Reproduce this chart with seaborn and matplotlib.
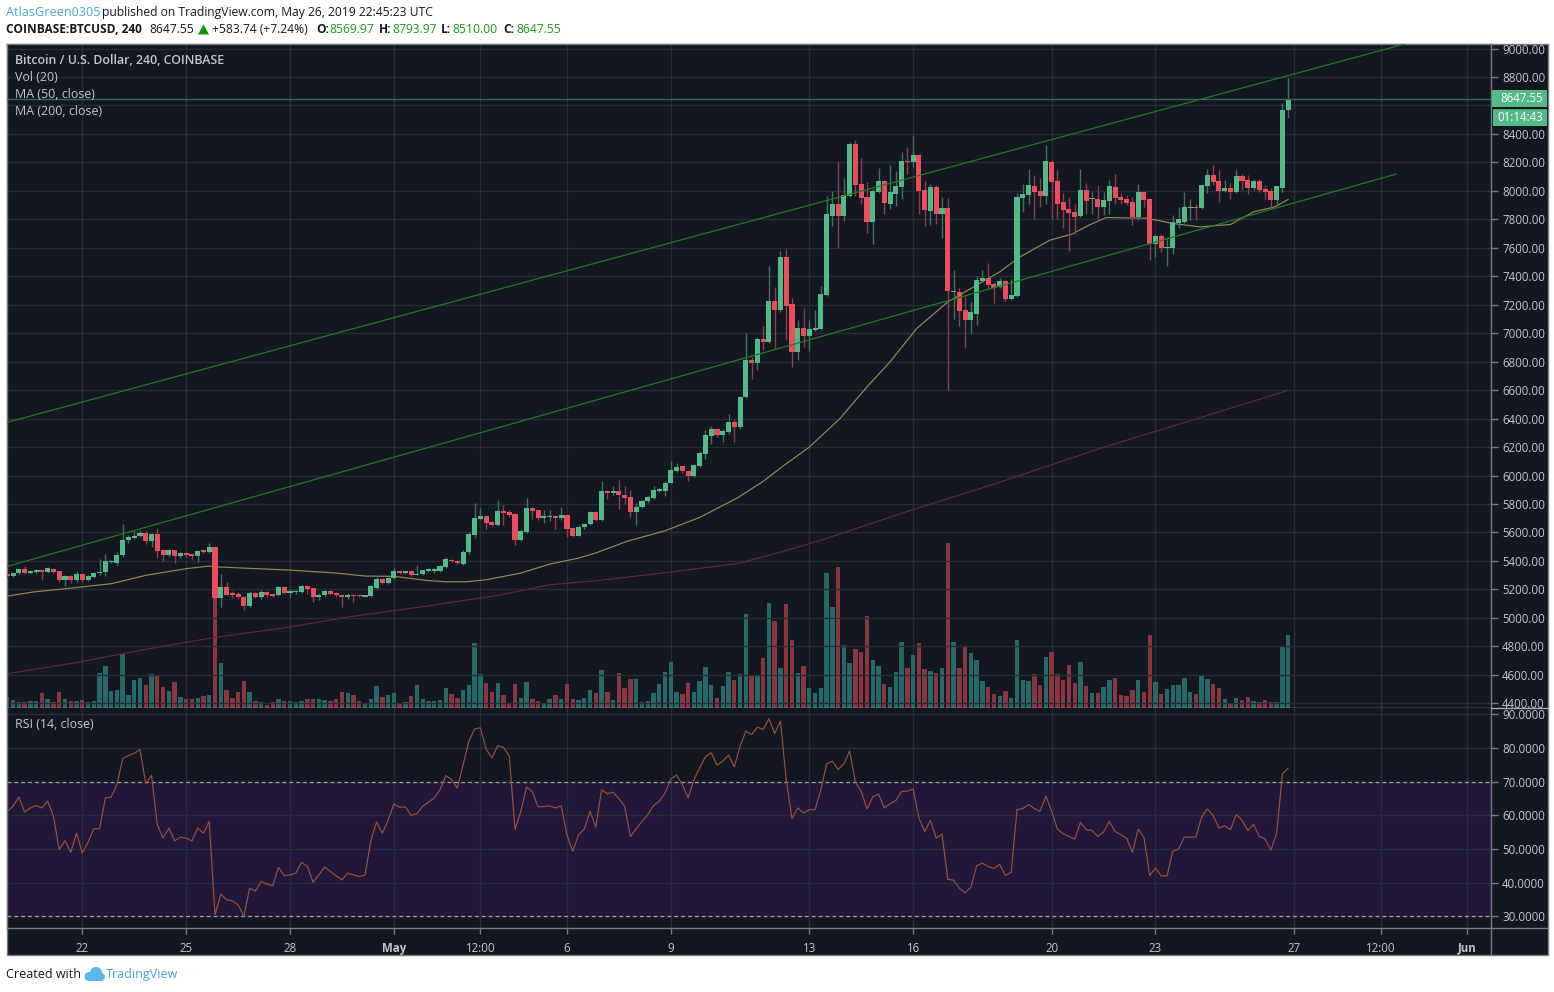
import matplotlib
matplotlib.use("Agg")
import matplotlib.pyplot as plt
from matplotlib.patches import Rectangle, Circle, Polygon
from matplotlib.transforms import Affine2D
import numpy as np
import pandas as pd
import seaborn as sns

# ---- data -----------------------------------------------------------------
opens = [5306,5292,5313,5341,5315,5320,5334,5322,5346,5327,
 5264,5292,5264,5306,5264,5285,5315,5320,5390,5388,
 5439,5545,5559,5573,5599,5538,5587,5475,5439,5475,
 5432,5453,5446,5432,5475,5460,5496,5137,5214,5172,
 5170,5149,5081,5172,5144,5184,5165,5161,5217,5177,
 5182,5179,5222,5207,5144,5158,5186,5175,5163,5144,
 5163,5158,5149,5151,5212,5271,5243,5278,5327,5315,
 5327,5301,5306,5329,5330,5333,5361,5408,5401,5380,
 5460,5580,5692,5713,5671,5650,5748,5741,5727,5545,
 5600,5769,5755,5699,5706,5713,5699,5720,5629,5577,
 5636,5657,5741,5685,5889,5878,5889,5866,5847,5741,
 5776,5819,5840,5889,5894,5950,6032,6065,6034,5995,
 6065,6152,6276,6325,6282,6304,6374,6339,6553,6810,
 6792,6956,6937,7225,7162,7534,7204,6869,7035,6979,
 7021,7028,7267,7822,7907,7822,7965,8329,8047,7956,
 7780,7991,8069,7907,7977,8026,8205,8205,8251,8005,
 7858,8026,7837,7883,7293,7293,7160,7091,7134,7368,
 7387,7345,7323,7366,7239,7260,7949,7970,8033,7998,
 7963,8202,8068,7921,7872,7850,7822,8005,7942,7942,
 7886,7928,8026,7956,7942,7921,7815,7991,7942,7626,
 7682,7597,7600,7771,7780,7878,7888,7878,8033,8110,
 8068,7998,8019,7991,8103,8075,8019,8068,8012,7998,7935,8019,8569.97]
highs = [5310,5318,5346,5365,5335,5342,5340,5355,5350,5332,
 5298,5298,5328,5315,5298,5325,5416,5451,5410,5460,
 5657,5580,5610,5615,5610,5595,5634,5480,5482,5480,
 5462,5465,5452,5478,5480,5526,5505,5306,5250,5190,
 5185,5155,5190,5185,5195,5190,5170,5222,5225,5200,
 5195,5228,5228,5212,5172,5195,5198,5180,5170,5178,
 5168,5162,5162,5228,5290,5278,5290,5352,5335,5332,
 5335,5370,5340,5350,5350,5372,5425,5415,5405,5480,
 5600,5805,5770,5722,5678,5825,5790,5755,5735,5625,
 5845,5778,5760,5755,5755,5725,5780,5728,5640,5650,
 5670,5750,5748,5965,5900,5925,5970,5925,5900,5810,
 5830,5855,5925,5915,5960,6100,6090,6070,6040,6080,
 6170,6320,6345,6335,6330,6430,6400,6560,7000,6830,
 6970,7050,7470,7325,7580,7595,7250,7090,7180,7090,
 7160,7330,7965,8000,8205,8090,8340,8360,8230,8065,
 8010,8160,8075,8180,8140,8270,8310,8395,8260,8070,
 8045,8040,7960,7950,7447,7320,7265,7220,7400,7447,
 7495,7360,7390,7375,7380,7985,8045,8157,8110,8094,
 8321,8215,8150,7982,7958,7911,8157,8057,7993,8040,
 7993,8080,8118,7982,7970,7958,8047,8000,7950,7700,
 7700,7677,7829,7888,7993,7946,7911,8050,8157,8181,
 8146,8075,8052,8150,8122,8110,8087,8087,8040,8017,8033,8614,8793.97]
lows = [5285,5285,5308,5308,5305,5310,5268,5318,5318,5255,
 5222,5245,5255,5252,5258,5280,5300,5292,5385,5375,
 5430,5525,5555,5565,5520,5500,5423,5400,5430,5385,
 5420,5425,5415,5393,5455,5455,5130,5076,5158,5140,
 5135,5053,5075,5140,5135,5150,5150,5155,5165,5150,
 5170,5172,5170,5110,5125,5150,5160,5150,5080,5130,
 5110,5148,5145,5145,5205,5238,5238,5270,5310,5308,
 5295,5298,5300,5325,5315,5325,5350,5392,5380,5375,
 5452,5560,5688,5625,5645,5645,5650,5712,5515,5540,
 5595,5695,5690,5670,5680,5625,5690,5570,5570,5572,
 5625,5650,5680,5680,5835,5860,5765,5800,5710,5655,
 5770,5810,5835,5885,5855,5945,6025,6020,5965,5990,
 6060,6115,6225,6270,6235,6295,6235,6330,6545,6675,
 6740,6880,6930,6890,7150,6950,6765,6810,6900,6875,
 7015,7020,7260,7755,7600,7790,7960,7965,7905,7705,
 7625,7985,7840,7875,7893,7945,8120,8170,7840,7755,
 7760,7770,7670,6604,7100,7050,6895,7000,7060,7360,
 7310,7210,7320,7225,7230,7255,7853,7911,7806,7888,
 7911,7806,7806,7736,7576,7700,7815,7841,7841,7806,
 7829,7841,7911,7911,7900,7759,7794,7888,7513,7536,
 7572,7471,7560,7736,7771,7799,7799,7875,7982,8040,
 7923,7993,7946,7986,8005,7977,8005,7993,7946,7883,7911,7993,8510]
closes = [5292,5313,5341,5313,5329,5334,5322,5348,5322,5264,
 5292,5264,5306,5264,5292,5318,5322,5397,5400,5439,
 5550,5566,5573,5599,5538,5587,5470,5439,5475,5432,
 5456,5439,5432,5472,5460,5496,5140,5214,5163,5163,
 5144,5081,5172,5144,5184,5158,5156,5214,5172,5189,
 5189,5222,5203,5144,5163,5186,5165,5158,5144,5163,
 5151,5151,5158,5222,5271,5243,5282,5327,5315,5327,
 5299,5310,5334,5341,5345,5366,5411,5397,5385,5465,
 5587,5702,5713,5664,5650,5748,5734,5720,5545,5608,
 5769,5748,5699,5713,5713,5699,5720,5622,5577,5640,
 5662,5741,5685,5889,5878,5889,5861,5842,5741,5781,
 5819,5847,5896,5905,5950,6036,6058,6030,5995,6072,
 6158,6282,6325,6282,6311,6374,6339,6553,6810,6792,
 6956,6937,7225,7162,7534,7190,6869,7035,6979,7028,
 7035,7274,7837,7907,7822,7970,8329,8040,7949,7780,
 7998,8069,7914,7991,8033,8207,8200,8251,8001,7865,
 8026,7837,7883,7295,7297,7155,7091,7148,7373,7387,
 7338,7321,7366,7239,7267,7954,7977,8040,7993,7963,
 8209,8061,7911,7865,7843,7815,8005,7928,7952,7886,
 7935,8033,7949,7935,7914,7815,7991,7935,7626,7682,
 7597,7604,7778,7801,7886,7888,7883,8040,8110,8061,
 7998,8019,7991,8103,8068,8019,8068,8005,7991,7935,8033,8567,8647.55]
volumes = [11,8,6,6,7,7,15,9,6,16,9,7,7,8,6,7,35,42,17,18,
 54,13,28,30,23,34,32,21,17,26,11,9,9,10,12,13,113,45,18,10,
 16,27,16,7,6,3,6,9,7,7,6,7,9,9,9,8,7,9,16,15,
 13,7,4,9,22,11,13,15,4,6,12,23,9,7,7,8,20,14,10,18,
 23,65,34,25,16,25,13,5,24,10,26,9,7,5,9,13,9,24,9,8,
 10,18,15,38,16,8,35,20,29,29,6,7,15,24,36,46,16,14,25,16,
 27,41,23,10,22,36,28,34,94,32,32,50,105,87,40,104,68,35,42,20,
 15,20,135,101,141,63,45,59,56,92,48,42,24,21,36,66,40,53,65,39,
 37,35,40,165,66,40,61,55,48,27,21,14,12,17,10,68,28,27,34,23,
 51,56,34,28,43,25,46,22,15,15,21,28,30,13,12,18,28,16,73,26,
 14,19,23,23,30,16,14,32,29,24,20,9,5,10,8,11,7,6,8,6,6,62,73]
rsi = [61.2,62.7,65.5,61,62.2,62.9,62.2,64.2,59.7,49.8,52.5,49,54.7,48.8,52,56,56,65.2,65.4,69.1,
 76.8,77.8,78.4,79.6,69.4,71.9,57.2,53.2,56.2,52.4,53.5,53.2,52.4,56.2,54.7,58.2,30.4,36.6,34.9,34.6,
 33.4,30,38.3,37.5,40.3,39.6,39,44.5,42.1,42.3,42.8,46,44.8,40.1,42.3,44.6,43.3,42,40.8,42.8,
 42.3,41.8,42.2,52.4,58,54.7,58.5,63.4,62.4,62.5,60,60.5,62.7,63.9,65.2,67.6,71.8,70.6,68.1,75.1,
 82,85.7,86,79.6,77.1,80.7,80.2,77.6,55.7,61.2,68.4,67,62.5,62.6,62.8,62.2,62.8,54.2,49.3,54.2,
 55.9,61.2,56.5,67.6,66.4,66.9,64.9,62.7,53.7,56,58.2,60.2,62.9,64.2,66.6,70.8,72,69.1,65.2,70.6,
 74.1,77.4,78.6,74.9,76.1,77.9,74.4,80.5,85,84,86.2,85.5,88.7,84.3,88,70.6,59,62.2,60.7,61.7,
 61.7,67.6,75.3,76.1,73.6,75.3,79.1,69.8,67.1,61.9,65.5,66.3,62.2,63.4,64.4,67.1,67.2,67.8,59.2,55.2,
 58.5,53.2,54.4,41,40.7,38.3,37,38.6,45,45.8,44.8,44.2,45.4,42.1,43.1,61.7,62,63.2,62,61.2,
 65.7,61.2,55.9,54.5,53.7,52.9,57.9,55.7,55.5,53.7,55,58.2,55.2,54.2,53.2,49,55.9,53.5,42.1,44.3,
 42,42,49.3,50,53.5,53.5,53.5,59.5,61.9,59.9,56.2,56.9,55.7,60.3,58.5,55.5,57.3,53.7,53,49.6,
 54.7,72.4,74]
ma50_bar = [0,4.5,10,18,24,31,35,37,42,49,57,62,67,73,76,79.6,83,89,94,99,102,107.4,114,120,126.5,131,134,
 139,144.3,149,153,157.6,163,167,172,175.5,180.7,184.5,187.5,190.5,197.5,202,206.7,212,216,219.7,222]
ma50_val = [5153,5182,5205,5240,5299,5346,5364,5357,5348,5336,5315,5294,5292,5262,5254,5254,5268,5315,5378,5420,5456,5538,5612,5706,5842,5959,6053,
 6200,6400,6623,6799,7033,7220,7314,7431,7536,7654,7696,7760,7813,7808,7771,7747,7764,7853,7888,7940]
ma200_bar = [0,12.6,23,35.7,49,59,73,85,94,102,115,126.5,134,141,155,172,189.4,207,222]
ma200_val = [4608,4690,4772,4861,4936,5006,5085,5158,5233,5261,5322,5381,5462,5545,5735,5953,6191,6410,6599]
upper_bar = [0,242.2]
upper_val = [6374,9032]
lower_bar = [0,240.7]
lower_val = [5362,8118]
last_price = 8647.55
price_ticks = list(range(4400,9001,200))
hidden_tick = 8600
rsi_ticks = [30,40,50,60,70,80,90]
time_ticks = [13,31,49,67,82,97,115,139,157,181,199,223,238,253]
time_labels = ["22","25","28","May","12:00","6","9","13","16","20","23","27","12:00","Jun"]

assert len(opens)==len(highs)==len(lows)==len(closes)==len(volumes)==len(rsi)==223

# ---- style ----------------------------------------------------------------
BG="#131722"; GRID="#272c39"; AXC="#787b86"; TXT="#c3c6ce"
UP="#53b987"; DN="#eb4d5c"; UPV="#256a69"; DNV="#8a3640"
sns.set_theme(style="dark", rc={"axes.facecolor":BG,"axes.edgecolor":AXC})
plt.rcParams['font.family']=['Open Sans','DejaVu Sans']

W,H=1554,992
fig=plt.figure(figsize=(W/100,H/100),dpi=100,facecolor="white")
PX=Affine2D().scale(1/W,-1/H).translate(0,1)+fig.transFigure
def axpx(l,t,r,b,**k):
    return fig.add_axes([l/W,1-b/H,(r-l)/W,(b-t)/H],**k)
def T(x,y,s,**k):
    k.setdefault("va","center"); k.setdefault("ha","left"); k.setdefault("fontsize",8.75); k.setdefault("color","#131722")
    return fig.text(x/W,1-y/H,s,**k)

fig.add_artist(Rectangle((6.5,43.5),1541.5,911.5,transform=PX,fc=BG,ec=AXC,lw=1,zorder=0))

XLIM=(-0.05,257.15)
YLIM=(4367,9032)
df=pd.DataFrame(dict(bar=np.arange(223),o=opens,h=highs,l=lows,c=closes,volume=volumes,rsi=rsi))
df["dir"]=np.where(df.c>=df.o,"up","down")

# volume pane underneath, its own hidden scale, price pane transparent on top
axv=axpx(7,44,1491,708)
sns.barplot(data=df,x="bar",y="volume",hue="dir",palette={"up":UPV,"down":DNV},native_scale=True,dodge=False,
            width=0.76,saturation=1,legend=False,ax=axv,linewidth=0)
axv.set_xlim(*XLIM); axv.set_ylim(0,664); axv.set_xlabel(""); axv.set_ylabel("")
axv.set_xticks(time_ticks); axv.set_yticks([])
axv.tick_params(left=False,right=False,bottom=False,top=False,labelleft=False,labelbottom=False)
axv.xaxis.grid(True,color=GRID,lw=1); axv.set_axisbelow(True)
for s in axv.spines.values(): s.set_visible(False)

ax=axpx(7,44,1491,708); ax.patch.set_alpha(0)
ax2=axpx(7,708,1491,928)
for a in (ax,ax2):
    a.set_xlim(*XLIM); a.set_xticks(time_ticks)
    a.set_axisbelow(True)
    a.yaxis.tick_right()
    a.tick_params(axis="y",right=True,length=5,width=1,color=AXC,labelcolor=TXT,labelsize=8.3,pad=3)
    for s in a.spines.values(): s.set_color(AXC); s.set_linewidth(1)
ax.set_ylim(*YLIM); ax.set_yticks(price_ticks)
ax.set_yticklabels(["" if p==hidden_tick else f"{p:.2f}" for p in price_ticks])
ax.yaxis.grid(True,color=GRID,lw=1); ax.xaxis.grid(False)
ax.tick_params(axis="x",bottom=False,labelbottom=False)
ax.spines["bottom"].set_color("#a5a8b0")
ax2.spines["top"].set_visible(False)
ax2.grid(True,color=GRID,lw=1)

sns.lineplot(x=ma200_bar,y=ma200_val,color="#602a33",lw=0.85,ax=ax,zorder=2)
sns.lineplot(x=ma50_bar,y=ma50_val,color="#958a55",lw=0.85,ax=ax,zorder=2)

for _,r in df.iterrows():
    up=r.c>=r.o
    ax.vlines(r.bar,r.l,r.h,color="#3a7561" if up else "#8a3f4c",lw=1,zorder=3)
    ax.bar(r.bar,max(abs(r.c-r.o),7),bottom=min(r.o,r.c),width=0.88,color=UP if up else DN,lw=0,zorder=4)

sns.lineplot(x=upper_bar,y=upper_val,color="#1c7d1f",lw=0.9,ax=ax,zorder=5)
sns.lineplot(x=lower_bar,y=lower_val,color="#1c7d1f",lw=0.9,ax=ax,zorder=5)
ax.axhline(last_price,color="#35695a",lw=1,zorder=5)
ax.set_xlim(*XLIM); ax.set_ylim(*YLIM); ax.set_xlabel(""); ax.set_ylabel("")

# RSI pane
ax2.set_ylim(26.5,91.9); ax2.set_yticks(rsi_ticks); ax2.set_yticklabels([f"{v:.4f}" for v in rsi_ticks])
ax2.axhspan(30,70,color="#26173f",alpha=0.8,lw=0,zorder=0.5)
for v in (30,70):
    ax2.axhline(v,color="#a8a2b0",lw=0.9,ls=(0,(3,2.5)),zorder=2)
sns.lineplot(data=df,x="bar",y="rsi",color="#9c5038",lw=0.85,ax=ax2,zorder=3)
ax2.set_xlabel(""); ax2.set_ylabel("")
ax2.set_xticks(time_ticks); ax2.set_xticklabels(time_labels)
ax2.tick_params(axis="x",bottom=True,length=4,width=1,color=AXC,labelcolor=TXT,labelsize=8.3,pad=6)
for lab,s in zip(ax2.get_xticklabels(),time_labels):
    if s in ("May","Jun"): lab.set_fontweight("bold")
ax2.set_xlim(*XLIM)

# frame lines of the scale columns
fig.add_artist(plt.Line2D([1491,1491],[928,955],transform=PX,color=AXC,lw=1))
fig.add_artist(plt.Line2D([1491,1548],[928,928],transform=PX,color=AXC,lw=1))
fig.add_artist(plt.Line2D([1491,1548],[708,708],transform=PX,color="#a5a8b0",lw=1))

# right-hand price tags
fig.add_artist(Rectangle((1492,90),55,16.5,transform=PX,fc=UP,ec="none",zorder=6))
fig.add_artist(Rectangle((1493,109),54,16.5,transform=PX,fc=UP,ec="none",zorder=6))
fig.add_artist(plt.Line2D([1492,1548],[107.5,107.5],transform=PX,color="#0b0d13",lw=1,ls=(0,(2,1)),zorder=6))
T(1500,98.3,"8647.55",color="white",fontsize=8.3,zorder=7)
T(1497,117.3,"01:14:43",color="white",fontsize=8.3,zorder=7)

# legends in the panes
T(15,60.5,"Bitcoin / U.S. Dollar, 240, COINBASE",color=TXT,fontsize=8.9,fontweight="semibold",zorder=8)
T(15,77.5,"Vol (20)",color=TXT,fontsize=8.9,zorder=8)
T(15,94.5,"MA (50, close)",color=TXT,fontsize=8.9,zorder=8)
T(15,111.5,"MA (200, close)",color=TXT,fontsize=8.9,zorder=8)
T(15,724.5,"RSI (14, close)",color=TXT,fontsize=8.9,zorder=8)

# header
BLUE="#4aa8d8"; GR="#1a9a1a"
T(6,12.5,"AtlasGreen0305",color=BLUE,fontsize=9.1)
T(102,12.5,"published on TradingView.com, May 26, 2019 22:45:23 UTC")
T(6,29.5,"COINBASE:BTCUSD, 240",fontweight="bold",fontsize=8.6)
T(149,29.5,"8647.55")
fig.add_artist(Polygon([(198,34.5),(209,34.5),(203.5,24.5)],transform=PX,fc="#0b9a0b",ec="none"))
T(212,29.5,"+583.74 (+7.24%)")
xs=[(316,"O:",329,"8569.97"),(379,"H:",392,"8793.97"),(441,"L:",452,"8510.00"),(503,"C:",516,"8647.55")]
for x0,a,x1,b in xs:
    T(x0,29.5,a,fontweight="bold",fontsize=8.6); T(x1,29.5,b,color=GR)

# footer
T(6,974.5,"Created with",fontsize=9)
for cx,cy,r in [(89,976.5,4.5),(96,973,6),(101,977,4)]:
    fig.add_artist(Circle((cx,cy),r,transform=PX,fc="#5bb8e8",ec="none"))
fig.add_artist(Rectangle((88,976),14,5,transform=PX,fc="#5bb8e8",ec="none"))
T(106,974.5,"TradingView",color=BLUE,fontsize=9)

fig.savefig("out.png",dpi=100,facecolor="white")
